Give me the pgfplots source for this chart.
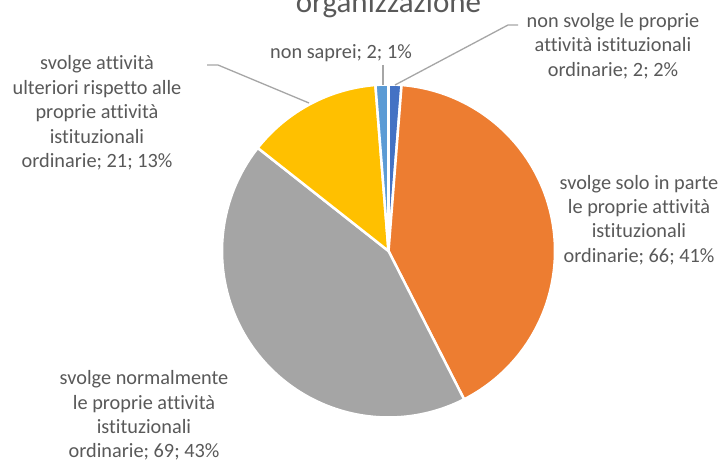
\documentclass[border=0pt]{standalone}
\usepackage{fontspec}
\setmainfont[RawFeature={-liga;-clig;-dlig;-calt}]{Carlito}
\usepackage{pgfplots}
\usepackage{pgfplotstable}
\pgfplotsset{compat=1.18}
\definecolor{txt}{HTML}{595959}
\definecolor{cA}{HTML}{4472C4}
\definecolor{cB}{HTML}{ED7D31}
\definecolor{cC}{HTML}{A5A5A5}
\definecolor{cD}{HTML}{FFC000}
\definecolor{cE}{HTML}{5B9BD5}
\definecolor{lead}{HTML}{A6A6A6}
\pgfplotstableread{
idx value
0 2
1 66
2 69
3 21
4 2
}\piedata
\begin{document}
\begin{tikzpicture}[x=1pt,y=1pt]
\pgfplotstablegetelem{0}{value}\of\piedata \pgfmathsetmacro\va{\pgfplotsretval}
\pgfplotstablegetelem{1}{value}\of\piedata \pgfmathsetmacro\vb{\pgfplotsretval}
\pgfplotstablegetelem{2}{value}\of\piedata \pgfmathsetmacro\vc{\pgfplotsretval}
\pgfplotstablegetelem{3}{value}\of\piedata \pgfmathsetmacro\vd{\pgfplotsretval}
\pgfplotstablegetelem{4}{value}\of\piedata \pgfmathsetmacro\ve{\pgfplotsretval}
\pgfmathsetmacro\tot{\va+\vb+\vc+\vd+\ve}
\pgfmathsetmacro\aA{90}
\pgfmathsetmacro\aB{\aA-360*(\va/\tot)}
\pgfmathsetmacro\aC{\aB-360*(\vb/\tot)}
\pgfmathsetmacro\aD{\aC-360*(\vc/\tot)}
\pgfmathsetmacro\aE{\aD-360*(\vd/\tot)}
\pgfmathsetmacro\aF{\aE-360*(\ve/\tot)}
\fill[white] (0,0) rectangle (726,464);
\begin{axis}[at={(0,0)}, anchor=south west, scale only axis,
  width=726pt, height=464pt, xmin=0, xmax=726, ymin=0, ymax=464,
  hide axis, clip=false]
\def\cx{388.5}\def\cy{213}\def\R{166.5}
\addplot[fill=cA, draw=white, line width=2.5pt, domain=\aB:\aA, samples=20] ({\cx+\R*cos(x)},{\cy+\R*sin(x)}) -- (axis cs:388.5,213) -- cycle;
\addplot[fill=cB, draw=white, line width=2.5pt, domain=\aC:\aB, samples=120] ({\cx+\R*cos(x)},{\cy+\R*sin(x)}) -- (axis cs:388.5,213) -- cycle;
\addplot[fill=cC, draw=white, line width=2.5pt, domain=\aD:\aC, samples=120] ({\cx+\R*cos(x)},{\cy+\R*sin(x)}) -- (axis cs:388.5,213) -- cycle;
\addplot[fill=cD, draw=white, line width=2.5pt, domain=\aE:\aD, samples=50] ({\cx+\R*cos(x)},{\cy+\R*sin(x)}) -- (axis cs:388.5,213) -- cycle;
\addplot[fill=cE, draw=white, line width=2.5pt, domain=\aF:\aE, samples=20] ({\cx+\R*cos(x)},{\cy+\R*sin(x)}) -- (axis cs:388.5,213) -- cycle;
% leader lines
\addplot[lead, line width=1.3pt] coordinates {(518,439) (508,439) (395,379)};
\addplot[lead, line width=1.3pt] coordinates {(383,399) (383,379)};
\addplot[lead, line width=1.3pt] coordinates {(207,399) (218,399) (309,361)};
% labels
\begin{scope}[every node/.style={text=txt, font=\fontsize{20.3}{24.4}\selectfont, align=center, inner sep=0pt}]
\node at (axis cs:341,411) {non saprei; 2; 1\%};
\node at (axis cs:613,418) {non svolge le proprie\\attività istituzionali\\ordinarie; 2; 2\%};
\node at (axis cs:97,351) {svolge attività\\ulteriori rispetto alle\\proprie attività\\istituzionali\\ordinarie; 21; 13\%};
\node at (axis cs:639,244) {svolge solo in parte\\le proprie attività\\istituzionali\\ordinarie; 66; 41\%};
\node at (axis cs:144,48.5) {svolge normalmente\\le proprie attività\\istituzionali\\ordinarie; 69; 43\%};
\node[anchor=base, font=\fontsize{31}{37}\selectfont] at (axis cs:388.5,451) {organizzazione};
\end{scope}
\end{axis}
\pgfresetboundingbox
\useasboundingbox (0,0) rectangle (726,464);
\end{tikzpicture}
\end{document}
